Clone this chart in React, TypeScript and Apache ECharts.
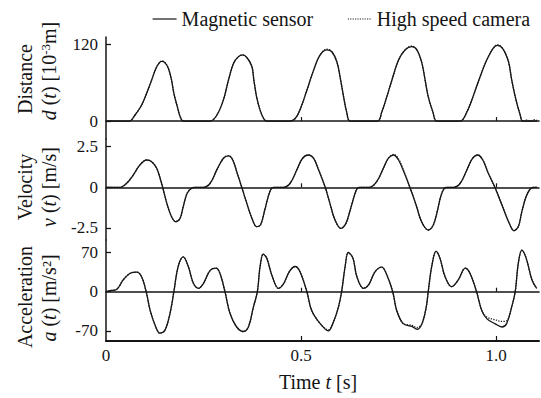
import React, { useEffect, useRef } from "react";
import * as echarts from "echarts";

// ---- data (time [s], value) ----
const distanceSensor: [number, number][] = [
  [0, 0], [0.06, 0], [0.074, 9], [0.0915, 25], [0.104, 43], [0.117, 64], [0.128, 82], [0.137, 91], [0.143, 93], [0.151, 91], [0.16, 82], [0.168, 64], [0.174, 43], [0.183, 22], [0.19, 7], [0.198, 0],
  [0.267, 0], [0.284, 9], [0.301, 33], [0.314, 64], [0.327, 90], [0.339, 100], [0.35, 103], [0.361, 99], [0.374, 85], [0.379, 64], [0.386, 38], [0.395, 17], [0.405, 3], [0.412, 0],
  [0.472, 0], [0.485, 4], [0.497, 17], [0.515, 48], [0.532, 79], [0.549, 103], [0.566, 111], [0.579, 108], [0.592, 92], [0.6, 69], [0.609, 38], [0.617, 14], [0.626, 0],
  [0.696, 0], [0.707, 14], [0.72, 38], [0.733, 64], [0.75, 95], [0.767, 111], [0.784, 116], [0.797, 111], [0.81, 90], [0.818, 64], [0.826, 38], [0.838, 14], [0.848, 0],
  [0.908, 0], [0.925, 14], [0.942, 40], [0.959, 69], [0.976, 95], [0.992, 113], [1.003, 118], [1.017, 113], [1.032, 92], [1.04, 64], [1.051, 33], [1.062, 9], [1.068, 0], [1.105, 0],
];
const distanceCamera: [number, number][] = [
  [0, 0], [0.06, 0], [0.074, 9], [0.0915, 25], [0.104, 43], [0.117, 64], [0.128, 82], [0.137, 91], [0.143, 94], [0.151, 91], [0.16, 82], [0.168, 64], [0.174, 43], [0.183, 22], [0.19, 7], [0.198, 0],
  [0.267, 0], [0.284, 9], [0.301, 33], [0.314, 64], [0.327, 90], [0.339, 100], [0.35, 103], [0.361, 99], [0.374, 85], [0.379, 64], [0.386, 38], [0.395, 17], [0.405, 3], [0.412, 0],
  [0.472, 0], [0.485, 4], [0.497, 17], [0.515, 48], [0.532, 79], [0.549, 103], [0.566, 112], [0.579, 108], [0.592, 92], [0.6, 69], [0.609, 38], [0.617, 14], [0.626, 0],
  [0.696, 0], [0.707, 14], [0.72, 38], [0.733, 64], [0.75, 95], [0.767, 111], [0.784, 117], [0.797, 111], [0.81, 90], [0.818, 64], [0.826, 38], [0.838, 14], [0.848, 0],
  [0.908, 0], [0.925, 14], [0.942, 40], [0.959, 69], [0.976, 95], [0.992, 113], [1.003, 119], [1.017, 113], [1.032, 92], [1.04, 64], [1.051, 33], [1.062, 9], [1.068, 0], [1.078, 1.5], [1.088, 0.5], [1.098, 2], [1.105, 1],
];

const velocitySensor: [number, number][] = [
  [0, 0], [0.036, 0], [0.053, 0.25], [0.07, 0.76], [0.087, 1.38], [0.104, 1.68], [0.117, 1.58], [0.13, 1.17], [0.14, 0.45], [0.147, -0.16], [0.156, -0.99], [0.168, -1.81], [0.179, -2.12], [0.19, -1.91], [0.198, -1.19], [0.208, -0.37], [0.219, -0.06], [0.228, 0],
  [0.25, 0], [0.267, 0.25], [0.284, 1.07], [0.301, 1.79], [0.314, 1.93], [0.325, 1.68], [0.335, 0.97], [0.348, 0], [0.361, -0.99], [0.374, -1.91], [0.386, -2.42], [0.396, -2.32], [0.407, -1.4], [0.416, -0.57], [0.424, -0.06], [0.432, 0],
  [0.455, 0], [0.472, 0.25], [0.489, 1.07], [0.504, 1.79], [0.519, 1.99], [0.532, 1.79], [0.545, 1.07], [0.562, 0], [0.574, -0.99], [0.587, -2.01], [0.602, -2.53], [0.615, -2.22], [0.626, -1.4], [0.636, -0.57], [0.644, -0.06], [0.652, 0],
  [0.675, 0], [0.694, 0.35], [0.711, 1.17], [0.724, 1.79], [0.737, 1.99], [0.75, 1.68], [0.765, 0.86], [0.779, 0], [0.795, -1.09], [0.809, -2.12], [0.826, -2.63], [0.839, -2.32], [0.85, -1.4], [0.858, -0.57], [0.867, -0.06], [0.875, 0],
  [0.891, 0], [0.908, 0.25], [0.925, 1.07], [0.94, 1.79], [0.953, 1.99], [0.966, 1.68], [0.98, 0.86], [0.997, 0], [1.015, -1.09], [1.032, -2.12], [1.046, -2.67], [1.057, -2.42], [1.066, -1.5], [1.077, -0.57], [1.087, -0.12], [1.095, 0], [1.105, 0],
];
const velocityCamera: [number, number][] = [
  [0, 0], [0.036, 0], [0.053, 0.25], [0.07, 0.76], [0.087, 1.38], [0.104, 1.68], [0.117, 1.58], [0.13, 1.17], [0.14, 0.45], [0.147, -0.16], [0.156, -0.99], [0.168, -1.81], [0.179, -2.12], [0.19, -1.91], [0.198, -1.19], [0.208, -0.37], [0.219, -0.06], [0.228, 0],
  [0.25, 0], [0.267, 0.25], [0.284, 1.07], [0.301, 1.79], [0.314, 1.95], [0.325, 1.68], [0.335, 0.97], [0.348, 0], [0.361, -0.99], [0.374, -1.91], [0.386, -2.42], [0.396, -2.32], [0.407, -1.4], [0.416, -0.57], [0.424, -0.06], [0.432, 0],
  [0.455, 0], [0.472, 0.25], [0.489, 1.07], [0.504, 1.79], [0.519, 1.99], [0.532, 1.79], [0.545, 1.07], [0.562, 0], [0.574, -0.99], [0.587, -2.01], [0.602, -2.53], [0.615, -2.22], [0.626, -1.4], [0.636, -0.57], [0.644, -0.06], [0.652, 0],
  [0.675, 0], [0.694, 0.35], [0.711, 1.17], [0.724, 1.79], [0.737, 2.03], [0.75, 1.74], [0.765, 0.9], [0.779, 0], [0.795, -1.09], [0.809, -2.12], [0.826, -2.63], [0.839, -2.32], [0.85, -1.4], [0.858, -0.57], [0.867, -0.06], [0.875, 0],
  [0.891, 0], [0.908, 0.25], [0.925, 1.07], [0.94, 1.79], [0.953, 1.99], [0.966, 1.68], [0.98, 0.86], [0.997, 0], [1.015, -1.09], [1.032, -2.12], [1.046, -2.67], [1.057, -2.42], [1.066, -1.5], [1.077, -0.57], [1.087, -0.12], [1.095, 0], [1.105, 0],
];

const accelSensor: [number, number][] = [
  [0, 0], [0.01, 2], [0.027, 4], [0.044, 21], [0.062, 33], [0.079, 35], [0.091, 27], [0.103, 0], [0.113, -33], [0.126, -60], [0.138, -74], [0.151, -69], [0.164, -39], [0.174, 0],
  [0.185, 45], [0.198, 62], [0.211, 45], [0.224, 15], [0.237, 6], [0.25, 15], [0.267, 38], [0.282, 42], [0.292, 33], [0.305, 0], [0.318, -39], [0.335, -63], [0.352, -71], [0.365, -63], [0.378, -27], [0.388, 0],
  [0.395, 45], [0.403, 67], [0.412, 60], [0.425, 30], [0.442, 6], [0.455, 14], [0.47, 36], [0.485, 45], [0.497, 36], [0.515, 0], [0.527, -33], [0.549, -57], [0.57, -70], [0.583, -54], [0.596, -27], [0.604, 0],
  [0.613, 45], [0.621, 70], [0.633, 60], [0.643, 27], [0.66, 6], [0.673, 12], [0.69, 36], [0.707, 44], [0.72, 30], [0.735, 0], [0.745, -33], [0.762, -57], [0.784, -62], [0.797, -67], [0.81, -57], [0.821, -27], [0.826, 0],
  [0.835, 45], [0.846, 72], [0.856, 60], [0.869, 27], [0.886, 9], [0.903, 21], [0.921, 42], [0.933, 33], [0.95, 0], [0.963, -33], [0.976, -48], [0.997, -57], [1.015, -63], [1.027, -57], [1.04, -27], [1.049, 0],
  [1.057, 51], [1.066, 74], [1.077, 60], [1.092, 21], [1.104, 6],
];
const accelCamera: [number, number][] = [
  [0, 0], [0.01, 2], [0.027, 4], [0.044, 21], [0.062, 33], [0.079, 35], [0.091, 27], [0.103, 0], [0.113, -33], [0.126, -60], [0.138, -74], [0.151, -69], [0.164, -39], [0.174, 0],
  [0.185, 45], [0.198, 62], [0.211, 45], [0.224, 15], [0.237, 6], [0.25, 15], [0.267, 38], [0.282, 42], [0.292, 33], [0.305, 0], [0.318, -39], [0.335, -63], [0.352, -71], [0.365, -63], [0.378, -27], [0.388, 0],
  [0.395, 45], [0.403, 67], [0.412, 60], [0.425, 30], [0.442, 6], [0.455, 14], [0.47, 36], [0.485, 45], [0.497, 36], [0.515, 0], [0.527, -33], [0.549, -57], [0.57, -68], [0.583, -54], [0.596, -27], [0.604, 0],
  [0.613, 45], [0.621, 70], [0.633, 60], [0.643, 27], [0.66, 6], [0.673, 12], [0.69, 36], [0.707, 44], [0.72, 30], [0.735, 0], [0.745, -33], [0.762, -57], [0.784, -60], [0.797, -64], [0.81, -57], [0.821, -27], [0.826, 0],
  [0.835, 45], [0.846, 72], [0.856, 60], [0.869, 27], [0.886, 9], [0.903, 21], [0.921, 42], [0.933, 33], [0.95, 0], [0.963, -33], [0.976, -45], [0.997, -50], [1.015, -53], [1.027, -52], [1.04, -27], [1.049, 0],
  [1.057, 51], [1.066, 74], [1.077, 60], [1.092, 21], [1.104, 6],
];

const xTickValues = [0, 0.5, 1.0];
const distanceTicks = [0, 120];
const velocityTicks = [-2.5, 0, 2.5];
const accelTicks = [-70, 0, 70];

const SENSOR = "Magnetic sensor";
const CAMERA = "High speed camera";

const FONT = "Liberation Serif";
const INK = "#151515";

export default function App() {
  const ref = useRef<HTMLDivElement>(null);

  useEffect(() => {
    if (!ref.current) return;
    const chart = echarts.init(ref.current, undefined, { renderer: "svg" });

    const X_MAX = 1.11;
    const grids = [
      { left: 106, width: 433, top: 37, height: 102 },
      { left: 106, width: 433, top: 139, height: 101 },
      { left: 106, width: 433, top: 240, height: 101 },
    ];

    const yBase = (gi: number, min: number, max: number, ticks: number[]) => ({
      type: "value",
      gridIndex: gi,
      min,
      max,
      splitLine: { show: false },
      axisLine: { show: true, onZero: false, lineStyle: { color: INK, width: 1.5 } },
      axisTick: { show: true, inside: true, length: 5, customValues: ticks, lineStyle: { color: INK, width: 1.3 } },
      axisLabel: { show: true, customValues: ticks, margin: 8, fontFamily: FONT, fontSize: 17, color: INK },
    });

    const xZero = (gi: number, position: string, inside: boolean) => ({
      type: "value",
      gridIndex: gi,
      min: 0,
      max: X_MAX,
      position,
      splitLine: { show: false },
      axisLine: { show: true, onZero: true, lineStyle: { color: INK, width: 1.6 } },
      axisTick: { show: true, inside, length: 4, customValues: [0.5, 1.0], lineStyle: { color: INK, width: 1.2 } },
      axisLabel: { show: false },
    });

    const lineSeries = (name: string, xi: number, yi: number, data: [number, number][], dotted: boolean) => ({
      name,
      type: "line",
      xAxisIndex: xi,
      yAxisIndex: yi,
      data,
      symbol: "none",
      showSymbol: false,
      smooth: 0.35,
      clip: true,
      lineStyle: dotted
        ? { color: "#222", width: 1.3, type: "dotted" }
        : { color: INK, width: 1.3, type: "solid" },
      itemStyle: { color: dotted ? "#222" : INK },
      z: dotted ? 2 : 3,
    });

    const richBase = { fontFamily: FONT, fontSize: 20, color: INK };
    const rich = {
      i: { fontFamily: FONT, fontSize: 20, fontStyle: "italic", color: INK },
      s: { fontFamily: FONT, fontSize: 13, color: INK, verticalAlign: "top" },
    };
    const vText = (x: number, y: number, text: string) => ({
      type: "text",
      x,
      y,
      rotation: Math.PI / 2,
      style: { text, ...richBase, rich, align: "center", verticalAlign: "middle", fill: INK },
    });

    chart.setOption({
      animation: false,
      backgroundColor: "#ffffff",
      legend: {
        left: 147,
        top: 4,
        itemWidth: 24,
        itemHeight: 12,
        itemGap: 34,
        data: [SENSOR, CAMERA],
        itemStyle: { opacity: 0, borderWidth: 0 },
        lineStyle: { width: 1.2 },
        textStyle: { fontFamily: FONT, fontSize: 20, color: INK },
      },
      grid: grids,
      xAxis: [
        xZero(0, "bottom", true),
        xZero(1, "bottom", true),
        {
          type: "value",
          gridIndex: 2,
          min: 0,
          max: X_MAX,
          position: "bottom",
          splitLine: { show: false },
          axisLine: { show: true, onZero: false, lineStyle: { color: INK, width: 2 } },
          axisTick: { show: true, inside: true, length: 5, customValues: [0.5, 1.0], lineStyle: { color: INK, width: 1.2 } },
          axisLabel: {
            show: true,
            customValues: xTickValues,
            margin: 6,
            fontFamily: FONT,
            fontSize: 17,
            color: INK,
            formatter: (v: number) => (v === 0 ? "0" : v.toFixed(1)),
          },
        },
        xZero(2, "top", false),
      ],
      yAxis: [
        yBase(0, -28, 131, distanceTicks),
        yBase(1, -3.245, 2.974, velocityTicks),
        yBase(2, -88, 92.3, accelTicks),
      ],
      series: [
        lineSeries(CAMERA, 0, 0, distanceCamera, true),
        lineSeries(SENSOR, 0, 0, distanceSensor, false),
        lineSeries(CAMERA, 1, 1, velocityCamera, true),
        lineSeries(SENSOR, 1, 1, velocitySensor, false),
        lineSeries(CAMERA, 2, 2, accelCamera, true),
        lineSeries(SENSOR, 2, 2, accelSensor, false),
      ],
      graphic: [
        vText(25, 79, "Distance"),
        vText(49, 71, "{i|d} ({i|t}) [10{s|-3}m]"),
        vText(25, 187, "Velocity"),
        vText(49, 187, "{i|v} ({i|t}) [m/s]"),
        vText(25, 297, "Acceleration"),
        vText(49, 298, "{i|a} ({i|t}) [m/s²]"),
        {
          type: "text",
          x: 318,
          y: 382,
          style: { text: "Time {i|t} [s]", ...richBase, rich, align: "center", verticalAlign: "middle", fill: INK },
        },
      ],
    });

    return () => chart.dispose();
  }, []);

  return (
    <div
      ref={ref}
      style={{ position: "fixed", left: 0, top: 0, width: 541, height: 398, background: "#fff" }}
    />
  );
}
